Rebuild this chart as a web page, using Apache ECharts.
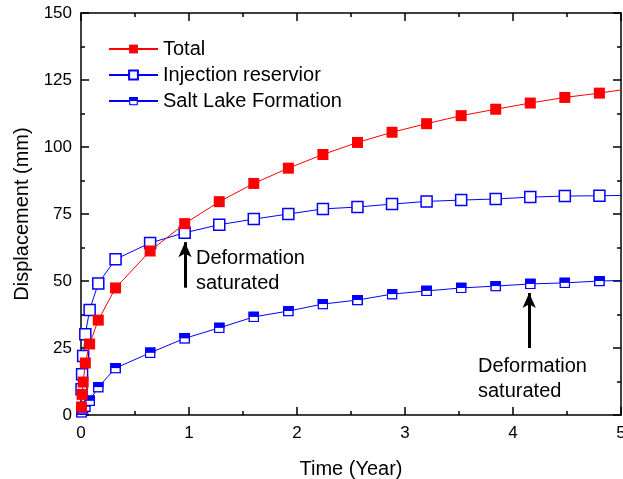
<!DOCTYPE html>
<html>
<head>
<meta charset="utf-8">
<script src="https://cdn.jsdelivr.net/npm/echarts@6/dist/echarts.min.js"></script>
<style>
  html, body { margin: 0; padding: 0; background: #fff; }
  #chart { width: 623px; height: 479px; }
</style>
</head>
<body>
<div id="chart"></div>
<script>
// time (year) of each sample
const times = [0.005, 0.01, 0.02, 0.04, 0.08, 0.16, 0.32, 0.64, 0.96, 1.28, 1.6, 1.92,
  2.24, 2.56, 2.88, 3.2, 3.52, 3.84, 4.16, 4.48, 4.8, 5.12];
// displacement (mm)
const total = [3, 7.7, 12.3, 19.4, 26.5, 35.4, 47.4, 61.2, 71.4, 79.6, 86.4, 92.1,
  97.2, 101.7, 105.5, 108.7, 111.7, 114.1, 116.4, 118.5, 120.1, 122];
const injection = [9.6, 15.2, 22, 30.1, 39.2, 49.1, 58.1, 64.2, 68, 71, 73.1, 75,
  76.9, 77.6, 78.7, 79.7, 80.2, 80.6, 81.3, 81.7, 81.8, 82];
const saltLake = [1, 2, 2.5, 3.1, 5.3, 10.4, 17.5, 23.2, 28.6, 32.5, 36.6, 38.8,
  41.4, 42.9, 45.1, 46.3, 47.4, 48.1, 48.9, 49.3, 50, 50.3];
const seriesNames = ['Total', 'Injection reservior', 'Salt Lake Formation'];
const yTicks = [0, 25, 50, 75, 100, 125, 150];

// arrows: [time, from, to]
const arrows = [[0.963, 47.5, 64.5], [4.15, 25, 45.5]];

const font = 'Arial, "Liberation Sans", sans-serif';

function pairs(ys) {
  return times.map((t, i) => [t, ys[i]]);
}

// half filled square (top blue, bottom white)
const halfSvg = "<svg xmlns='http://www.w3.org/2000/svg' width='22' height='22'>" +
  "<rect x='1.5' y='1.5' width='19' height='19' fill='white' stroke='#0000ff' stroke-width='3'/>" +
  "<rect x='0' y='0' width='22' height='11' fill='#0000ff'/></svg>";
const halfIcon = 'image://data:image/svg+xml;charset=utf-8,' + encodeURIComponent(halfSvg);

const chart = echarts.init(document.getElementById('chart'));

const axisLine = { show: true, onZero: false, lineStyle: { color: '#000', width: 1.5 } };
const tick = { show: true, inside: true, length: 8, lineStyle: { color: '#000', width: 1.5 } };
const minorTick = { show: true, splitNumber: 2, length: 4, lineStyle: { color: '#000', width: 1.5 } };

chart.setOption({
  animation: false,
  textStyle: { fontFamily: font },
  grid: { left: 81, right: 2, top: 13, bottom: 64, outerBoundsMode: 'none', containLabel: false },
  legend: {
    orient: 'vertical',
    left: 103,
    top: 34,
    itemWidth: 49,
    itemHeight: 11,
    itemGap: 6,
    data: seriesNames,
    textStyle: { fontSize: 20, color: '#000', fontFamily: font }
  },
  xAxis: [{
    type: 'value', min: 0, max: 5, interval: 1,
    name: 'Time (Year)', nameLocation: 'middle', nameGap: 44,
    nameTextStyle: { fontSize: 20, color: '#000' },
    axisLine, axisTick: tick, minorTick,
    axisLabel: { fontSize: 17, color: '#000', margin: 10 },
    splitLine: { show: false }
  }, {
    type: 'value', min: 0, max: 5, interval: 1, position: 'top',
    axisLine, axisTick: tick, minorTick,
    axisLabel: { show: false }, splitLine: { show: false }
  }],
  yAxis: [{
    type: 'value', min: 0, max: 150, interval: 25,
    name: 'Displacement (mm)', nameLocation: 'middle', nameGap: 48,
    nameTextStyle: { fontSize: 20, color: '#000' },
    axisLine, axisTick: tick, minorTick,
    axisLabel: { fontSize: 17, color: '#000', margin: 9,
      formatter: v => yTicks.includes(v) ? String(v) : '' },
    splitLine: { show: false }
  }, {
    type: 'value', min: 0, max: 150, interval: 25, position: 'right',
    axisLine, axisTick: tick, minorTick,
    axisLabel: { show: false }, splitLine: { show: false }
  }],
  series: [{
    name: seriesNames[0], type: 'line', data: pairs(total),
    symbol: 'rect', symbolSize: 11,
    itemStyle: { color: '#ff0000' },
    lineStyle: { color: '#ff0000', width: 1 },
    z: 3
  }, {
    name: seriesNames[1], type: 'line', data: pairs(injection),
    symbol: 'rect', symbolSize: 11,
    itemStyle: { color: '#ffffff', borderColor: '#0000ff', borderWidth: 1.5 },
    lineStyle: { color: '#0000ff', width: 1 },
    z: 2
  }, {
    name: seriesNames[2], type: 'line', data: pairs(saltLake),
    symbol: halfIcon, symbolSize: 11,
    itemStyle: { color: '#0000ff' },
    lineStyle: { color: '#0000ff', width: 1 },
    z: 2,
    markLine: {
      silent: true,
      symbol: ['none', 'arrow'],
      symbolSize: [10, 15],
      lineStyle: { color: '#000', width: 3, type: 'solid' },
      label: { show: false },
      data: arrows.map(a => [{ coord: [a[0], a[1]] }, { coord: [a[0], a[2]] }])
    }
  }],
  graphic: [
    { type: 'text', left: 196, top: 246,
      style: { text: 'Deformation\nsaturated', font: '20px ' + font, fill: '#000', lineHeight: 25 } },
    { type: 'text', left: 478, top: 354,
      style: { text: 'Deformation\nsaturated', font: '20px ' + font, fill: '#000', lineHeight: 25 } }
  ]
});
</script>
</body>
</html>
